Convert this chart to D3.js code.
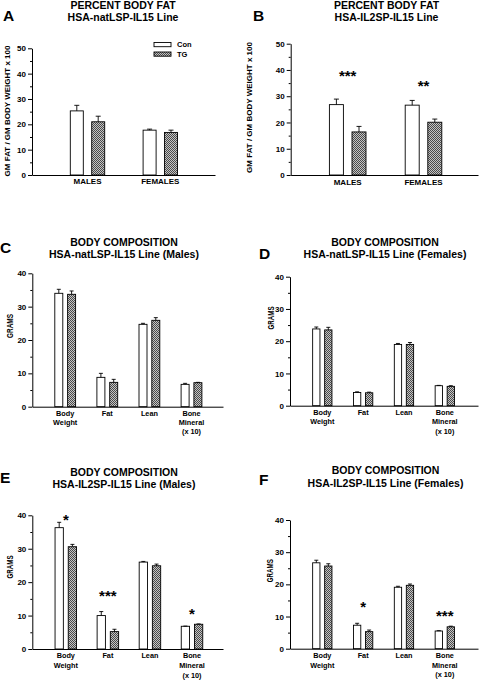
<!DOCTYPE html>
<html>
<head>
<meta charset="utf-8">
<script src="https://cdn.jsdelivr.net/npm/d3@7"></script>
<style>
  html, body { margin: 0; padding: 0; background: #fff; }
  svg { display: block; }
  text { font-family: "Liberation Sans", Arial, sans-serif; font-weight: bold; fill: #000; }
</style>
</head>
<body>
<svg id="chart" width="480" height="680"></svg>
<script>
// ---------------- DATA ----------------
const seriesLabels = ["Con", "TG"];
const sexGroups = ["MALES", "FEMALES"];
const compCategories = [["Body", "Weight"], ["Fat"], ["Lean"], ["Bone", "Mineral", "(x 10)"]];
const yTicksPct = [0, 10, 20, 30, 40, 50];
const yMinorPct = [5, 15, 25, 35, 45];
const yTicksGrams = [0, 10, 20, 30, 40];
const yMinorGrams = [5, 15, 25, 35];

// Panel A: percent body fat, HSA-natLSP-IL15
const aCon = [25.3, 17.7];
const aConSem = [2.2, 0.4];
const aTG = [21.0, 16.8];
const aTGSem = [2.2, 0.9];
const aSig = ["", ""];
const aSigLevel = [null, null];

// Panel B: percent body fat, HSA-IL2SP-IL15
const bCon = [26.8, 26.6];
const bConSem = [2.1, 1.8];
const bTG = [16.4, 20.1];
const bTGSem = [2.1, 1.2];
const bSig = ["***", "**"];
const bSigLevel = [39.2, 35.1];

// Panel C: natLSP males
const cCon = [34.0, 8.8, 24.7, 6.7];
const cConSem = [1.2, 1.2, 0.3, 0.3];
const cTG = [33.7, 7.3, 25.9, 7.2];
const cTGSem = [1.0, 0.9, 0.8, 0.1];
const cSig = ["", "", "", ""];
const cSigLevel = [null, null, null, null];

// Panel D: natLSP females
const dCon = [23.8, 4.1, 19.0, 6.2];
const dConSem = [0.6, 0.2, 0.3, 0.1];
const dTG = [23.5, 4.0, 19.0, 6.0];
const dTGSem = [0.8, 0.2, 0.6, 0.2];
const dSig = ["", "", "", ""];
const dSigLevel = [null, null, null, null];

// Panel E: IL2SP males
const eCon = [36.3, 10.0, 26.0, 6.8];
const eConSem = [1.6, 1.2, 0.2, 0.05];
const eTG = [30.6, 5.2, 24.9, 7.4];
const eTGSem = [0.7, 0.7, 0.5, 0.1];
const eSig = ["*", "***", "", "*"];
const eSigLevel = [39.7, 17.0, null, 11.4];

// Panel F: IL2SP females
const fCon = [26.7, 7.3, 19.1, 5.5];
const fConSem = [0.8, 0.6, 0.3, 0.1];
const fTG = [25.7, 5.3, 19.7, 6.8];
const fTGSem = [0.7, 0.5, 0.4, 0.2];
const fSig = ["", "*", "", "***"];
const fSigLevel = [null, 14.1, null, 11.2];

// ---------------- DRAWING ----------------
const svg = d3.select("#chart");
const defs = svg.append("defs");
const pat = defs.append("pattern").attr("id", "hatch")
  .attr("patternUnits", "userSpaceOnUse").attr("width", 2).attr("height", 2);
pat.append("rect").attr("width", 2).attr("height", 2).attr("fill", "#c4c4c4");
pat.append("rect").attr("x", 0).attr("y", 0).attr("width", 1).attr("height", 1).attr("fill", "#4a4a4a");
pat.append("rect").attr("x", 1).attr("y", 1).attr("width", 1).attr("height", 1).attr("fill", "#4a4a4a");

function panel(cfg) {
  const g = svg.append("g");
  const y = d3.scaleLinear().domain([0, cfg.yMax]).range([cfg.y0, cfg.yTop]);
  const x = d3.scalePoint().domain(d3.range(cfg.cats.length)).range([cfg.c0, cfg.c1]);
  const series = [
    { vals: cfg.con, sem: cfg.conSem, fill: "#fff", off: -cfg.off },
    { vals: cfg.tg, sem: cfg.tgSem, fill: "url(#hatch)", off: cfg.off }
  ];

  // bars + error bars
  series.forEach(s => {
    const bg = g.append("g");
    bg.selectAll("rect").data(s.vals).join("rect")
      .attr("x", (d, i) => x(i) + s.off - cfg.bw / 2)
      .attr("y", d => y(d))
      .attr("width", cfg.bw)
      .attr("height", d => cfg.y0 - y(d))
      .attr("fill", s.fill).attr("stroke", "#000").attr("stroke-width", 0.9);
    bg.selectAll("line.eb").data(s.vals).join("line").attr("class", "eb")
      .attr("x1", (d, i) => x(i) + s.off).attr("x2", (d, i) => x(i) + s.off)
      .attr("y1", d => y(d)).attr("y2", (d, i) => y(d + s.sem[i]))
      .attr("stroke", "#000").attr("stroke-width", 0.9);
    bg.selectAll("line.cap").data(s.vals).join("line").attr("class", "cap")
      .attr("x1", (d, i) => x(i) + s.off - cfg.cap / 2).attr("x2", (d, i) => x(i) + s.off + cfg.cap / 2)
      .attr("y1", (d, i) => y(d + s.sem[i])).attr("y2", (d, i) => y(d + s.sem[i]))
      .attr("stroke", "#000").attr("stroke-width", 0.9);
  });

  // y axis (major + minor)
  const ya = g.append("g").attr("transform", `translate(${cfg.ax},0)`)
    .call(d3.axisLeft(y).tickValues(cfg.ticks).tickSize(4).tickSizeOuter(0).tickPadding(2));
  ya.select(".domain").attr("stroke-width", 1);
  ya.selectAll("text").style("font-size", cfg.tickFont + "px").style("font-family", "'Liberation Sans', Arial, sans-serif").style("font-weight", "bold");
  const ym = g.append("g").attr("transform", `translate(${cfg.ax},0)`)
    .call(d3.axisLeft(y).tickValues(cfg.minor).tickSize(2).tickFormat(""));
  ym.select(".domain").remove();

  // x axis (no ticks)
  const xs = d3.scaleLinear().range([cfg.ax, cfg.xEnd]);
  g.append("g").attr("transform", `translate(0,${cfg.y0})`)
    .call(d3.axisBottom(xs).tickValues([]).tickSizeOuter(0))
    .select(".domain").attr("stroke-width", 1);

  // category labels
  cfg.cats.forEach((c, i) => {
    const lines = Array.isArray(c) ? c : [c];
    const t = g.append("text").attr("text-anchor", "middle")
      .style("font-size", cfg.catFont + "px");
    lines.forEach((ln, k) => {
      t.append("tspan").attr("x", x(i)).attr("y", cfg.y0 + cfg.catDy + k * cfg.catLine).text(ln);
    });
  });

  // significance stars
  cfg.sig.forEach((s, i) => {
    if (!s) return;
    g.append("text").attr("text-anchor", "middle")
      .attr("x", x(i)).attr("y", y(cfg.sigLevel[i]) + 8.5)
      .style("font-size", "15px").text(s);
  });

  // titles
  g.append("text").attr("text-anchor", "middle").attr("x", cfg.tx).attr("y", cfg.ty1)
    .style("font-size", "10.5px").text(cfg.title1);
  g.append("text").attr("text-anchor", "middle").attr("x", cfg.tx).attr("y", cfg.ty2)
    .style("font-size", "10.5px").text(cfg.title2);
  // panel letter
  g.append("text").attr("x", cfg.lx).attr("y", cfg.ly).style("font-size", "15.5px").text(cfg.letter);
  // y label
  const yl = g.append("text").attr("text-anchor", "middle")
    .attr("transform", `translate(${cfg.ylx},${cfg.yly}) rotate(-90)`)
    .style("font-size", cfg.ylFont + "px").text(cfg.ylabel);
  if (cfg.ylLen) yl.attr("textLength", cfg.ylLen).attr("lengthAdjust", "spacingAndGlyphs");
  return { g, x, y };
}

// Panel A
const pA = panel({
  cats: sexGroups, con: aCon, conSem: aConSem, tg: aTG, tgSem: aTGSem, sig: aSig, sigLevel: aSigLevel,
  yMax: 50, ticks: yTicksPct, minor: yMinorPct, y0: 175, yTop: 48.3, ax: 32, xEnd: 215,
  c0: 87.5, c1: 160.3, bw: 13, off: 10.7, cap: 5, tickFont: 8, catFont: 8, catDy: 9.3, catLine: 9,
  tx: 123, ty1: 9, ty2: 21, title1: "PERCENT BODY FAT", title2: "HSA-natLSP-IL15 Line",
  letter: "A", lx: 3, ly: 21, ylabel: "GM FAT / GM BODY WEIGHT x 100", ylx: 10, yly: 111, ylFont: 8
});
// legend in A
const legendY = [42.5, 52];
seriesLabels.forEach((lab, i) => {
  pA.g.append("rect").attr("x", 154).attr("y", legendY[i]).attr("width", 17).attr("height", 4.2)
    .attr("fill", i === 0 ? "#fff" : "url(#hatch)").attr("stroke", "#000").attr("stroke-width", 0.9);
  pA.g.append("text").attr("x", 177).attr("y", legendY[i] + 4.8).style("font-size", "7.5px").text(lab);
});

// Panel B
panel({
  cats: sexGroups, con: bCon, conSem: bConSem, tg: bTG, tgSem: bTGSem, sig: bSig, sigLevel: bSigLevel,
  yMax: 50, ticks: yTicksPct, minor: yMinorPct, y0: 175, yTop: 43.7, ax: 290.7, xEnd: 478,
  c0: 347.7, c1: 423.5, bw: 14, off: 11.3, cap: 5, tickFont: 8, catFont: 8, catDy: 10, catLine: 9,
  tx: 386.5, ty1: 9, ty2: 21, title1: "PERCENT BODY FAT", title2: "HSA-IL2SP-IL15 Line",
  letter: "B", lx: 253, ly: 20.7, ylabel: "GM FAT / GM BODY WEIGHT x 100", ylx: 251.5, yly: 107.5, ylFont: 8
});

// Panel C
panel({
  cats: compCategories, con: cCon, conSem: cConSem, tg: cTG, tgSem: cTGSem, sig: cSig, sigLevel: cSigLevel,
  yMax: 40, ticks: yTicksGrams, minor: yMinorGrams, y0: 406.7, yTop: 273.3, ax: 32.3, xEnd: 223,
  c0: 65.2, c1: 191.5, bw: 8, off: 6.4, cap: 4, tickFont: 8, catFont: 7.3, catDy: 9, catLine: 9.3,
  tx: 124, ty1: 245.7, ty2: 258.2, title1: "BODY COMPOSITION", title2: "HSA-natLSP-IL15 Line (Males)",
  letter: "C", lx: 0, ly: 253.3, ylabel: "GRAMS", ylx: 13, yly: 326, ylFont: 9, ylLen: 24
});

// Panel D
panel({
  cats: compCategories, con: dCon, conSem: dConSem, tg: dTG, tgSem: dTGSem, sig: dSig, sigLevel: dSigLevel,
  yMax: 40, ticks: yTicksGrams, minor: yMinorGrams, y0: 405.7, yTop: 276.7, ax: 290, xEnd: 478,
  c0: 322.3, c1: 444.8, bw: 7.3, off: 6, cap: 4, tickFont: 8, catFont: 7.3, catDy: 9, catLine: 9.5,
  tx: 385, ty1: 245.7, ty2: 258.2, title1: "BODY COMPOSITION", title2: "HSA-natLSP-IL15 Line (Females)",
  letter: "D", lx: 259, ly: 259, ylabel: "GRAMS", ylx: 273.5, yly: 318, ylFont: 9, ylLen: 23
});

// Panel E
panel({
  cats: compCategories, con: eCon, conSem: eConSem, tg: eTG, tgSem: eTGSem, sig: eSig, sigLevel: eSigLevel,
  yMax: 40, ticks: yTicksGrams, minor: yMinorGrams, y0: 649, yTop: 515.3, ax: 32.3, xEnd: 223,
  c0: 65.8, c1: 192, bw: 8.3, off: 6.6, cap: 4, tickFont: 8, catFont: 7.3, catDy: 9.3, catLine: 10,
  tx: 124, ty1: 475.5, ty2: 488, title1: "BODY COMPOSITION", title2: "HSA-IL2SP-IL15 Line (Males)",
  letter: "E", lx: 0, ly: 483, ylabel: "GRAMS", ylx: 13, yly: 567, ylFont: 9, ylLen: 23
});

// Panel F
panel({
  cats: compCategories, con: fCon, conSem: fConSem, tg: fTG, tgSem: fTGSem, sig: fSig, sigLevel: fSigLevel,
  yMax: 40, ticks: yTicksGrams, minor: yMinorGrams, y0: 648.7, yTop: 520, ax: 290, xEnd: 478,
  c0: 322.3, c1: 444.8, bw: 7.3, off: 6, cap: 4, tickFont: 8, catFont: 7.3, catDy: 9.3, catLine: 9.5,
  tx: 385.5, ty1: 473.5, ty2: 486.5, title1: "BODY COMPOSITION", title2: "HSA-IL2SP-IL15 Line (Females)",
  letter: "F", lx: 259, ly: 485, ylabel: "GRAMS", ylx: 272.5, yly: 570.7, ylFont: 9, ylLen: 23
});
</script>
</body>
</html>
